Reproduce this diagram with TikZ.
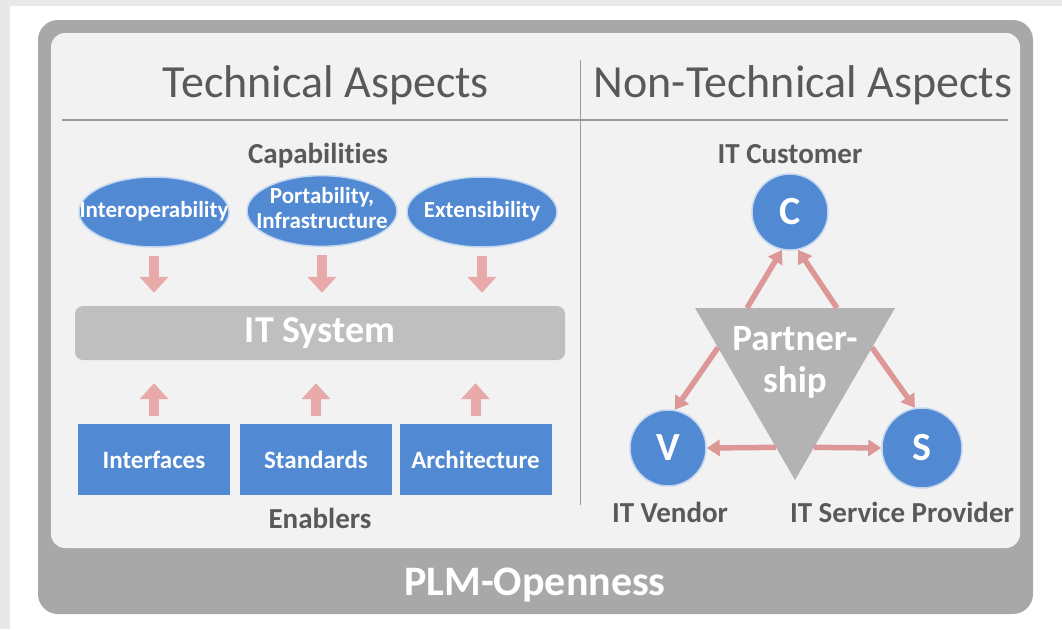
\documentclass[tikz,border=0pt]{standalone}
\usepackage{fontspec}
\setmainfont{Carlito}[Ligatures=NoCommon]
\usetikzlibrary{arrows.meta,shapes.geometric,calc}
\definecolor{txtGray}{HTML}{595959}
\definecolor{frameGray}{HTML}{A8A8A8}
\definecolor{panelGray}{HTML}{F2F2F2}
\definecolor{barGray}{HTML}{BFBFBF}
\definecolor{triGray}{HTML}{B3B3B3}
\definecolor{plmBlue}{HTML}{5189D3}
\definecolor{arrPink}{HTML}{E8A9A9}
\definecolor{linkPink}{HTML}{DD9797}
\newcommand{\fsz}[1]{\fontsize{#1}{#1}\selectfont}
% text may run over the ellipse border
\newcommand{\ovr}[1]{\makebox[0pt]{\begin{tabular}{@{}c@{}}#1\end{tabular}}}
\tikzset{
	capa/.style={ellipse, fill=plmBlue, draw=plmBlue!35, line width=1.5pt, minimum width=150pt,
		minimum height=70pt, inner sep=0pt, text=white,
		font=\bfseries\fontsize{23}{25}\selectfont},
	enab/.style={rectangle, fill=plmBlue, minimum width=152pt, minimum height=71pt, text=white,
		font=\bfseries\fsz{25}},
	actor/.style={circle, fill=plmBlue, draw=plmBlue!35, line width=1.5pt, minimum size=76pt,
		inner sep=0pt, text=white, font=\bfseries\fsz{40}},
	lbl/.style={text=txtGray, font=\bfseries\fsz{29}, anchor=base},
	head/.style={text=txtGray, font=\fsz{46}, anchor=base},
	fat/.style={draw=arrPink, line width=10pt, -{Triangle[width=28pt,length=16pt]}},
	link/.style={draw=linkPink, line width=5.5pt, -{Triangle[width=16pt,length=13pt]}}
}

\begin{document}
\begin{tikzpicture}[x=1pt, y=-1pt]
	\useasboundingbox (0,0) rectangle (1062,629);
	\fill[black!9] (0,0) rectangle (1062,629);
	\fill[white] (10,6) rectangle (1062,629);
	% frame and panel
	\fill[frameGray, rounded corners=20pt] (38,20) rectangle (1033,614);
	\fill[panelGray, rounded corners=14pt] (51,33) rectangle (1020,548);
	\node[text=white, font=\bfseries\fsz{42}, anchor=base] (plm) at (535, 595) {PLM-Openness};
	
	\draw[txtGray!60, line width=2pt] (62,120) -- (1008,120);
	\draw[txtGray!60, line width=1pt] (580,60) -- (580,505);
	\node[head] (tech) at (326, 97) {Technical Aspects};
	\node[head] (ntech) at (803, 97) {Non-Technical Aspects};
	
	% technical side
	\node[lbl] (capab) at (318, 163) {Capabilities};
	\node[capa] (iop) at (154, 212) {\ovr{Interoperability}};
	\node[capa] (port) at (322, 211) {\ovr{Portability,\\Infrastructure}};
	\node[capa] (ext) at (482, 212) {\ovr{Extensibility}};
	
	\node[fill=barGray, rounded corners=8pt, minimum width=490pt, minimum height=54pt, text=white,
		font=\bfseries\fsz{38}] (sys) at (320, 333) {IT System};
	
	\node[enab] (intf) at (154, 459.5) {Interfaces};
	\node[enab] (std) at (316, 459.5) {Standards};
	\node[enab] (arch) at (475.5, 459.5) {Architecture};
	\node[lbl] (enabl) at (320, 528) {Enablers};
	
	\draw[fat, shorten <=8pt, shorten >=13pt] (iop.south) -- (iop.south |- sys.north);
	\draw[fat, shorten <=8pt, shorten >=13pt] (port.south) -- (port.south |- sys.north);
	\draw[fat, shorten <=8pt, shorten >=13pt] (ext.south) -- (ext.south |- sys.north);
	\draw[fat, shorten <=8pt, shorten >=23pt] (intf.north) -- (intf.north |- sys.south);
	\draw[fat, shorten <=8pt, shorten >=23pt] (std.north) -- (std.north |- sys.south);
	\draw[fat, shorten <=8pt, shorten >=23pt] (arch.north) -- (arch.north |- sys.south);
	
	% non-technical side
	\coordinate (tA) at (695, 308);
	\coordinate (tB) at (895, 308);
	\coordinate (tC) at (795, 480);
	\fill[triGray] (tA) -- (tB) -- (tC) -- cycle;
	\node[text=white, align=center, font=\bfseries\fontsize{37}{42}\selectfont] (part) at (795, 362) {Partner-\\ship};
	
	\node[lbl] (cust) at (790, 163) {IT Customer};
	\node[actor] (C) at (790, 212) {C};
	\node[actor] (V) at (668, 448) {V};
	\node[actor, minimum size=80pt] (S) at (922, 448) {S};
	\node[lbl] (vend) at (670, 522) {IT Vendor};
	\node[lbl] (serv) at (902, 522) {IT Service Provider};
	
	\path (tA) -- (tB) coordinate[pos=0.26] (tAB1) coordinate[pos=0.71] (tAB2);
	\path (tA) -- (tC) coordinate[pos=0.23] (tAC1) coordinate[pos=0.81] (tAC2);
	\path (tB) -- (tC) coordinate[pos=0.23] (tBC1) coordinate[pos=0.81] (tBC2);
	
	\draw[link] (tAB1) -- (C.258);
	\draw[link] (tAB2) -- (C.282);
	\draw[link] (tAC1) -- (V.80);
	\draw[link] (tBC1) -- (S.100);
	\draw[link] (tAC2) -- (V.east);
	\draw[link] (tBC2) -- (S.west);
\end{tikzpicture}
\end{document}
